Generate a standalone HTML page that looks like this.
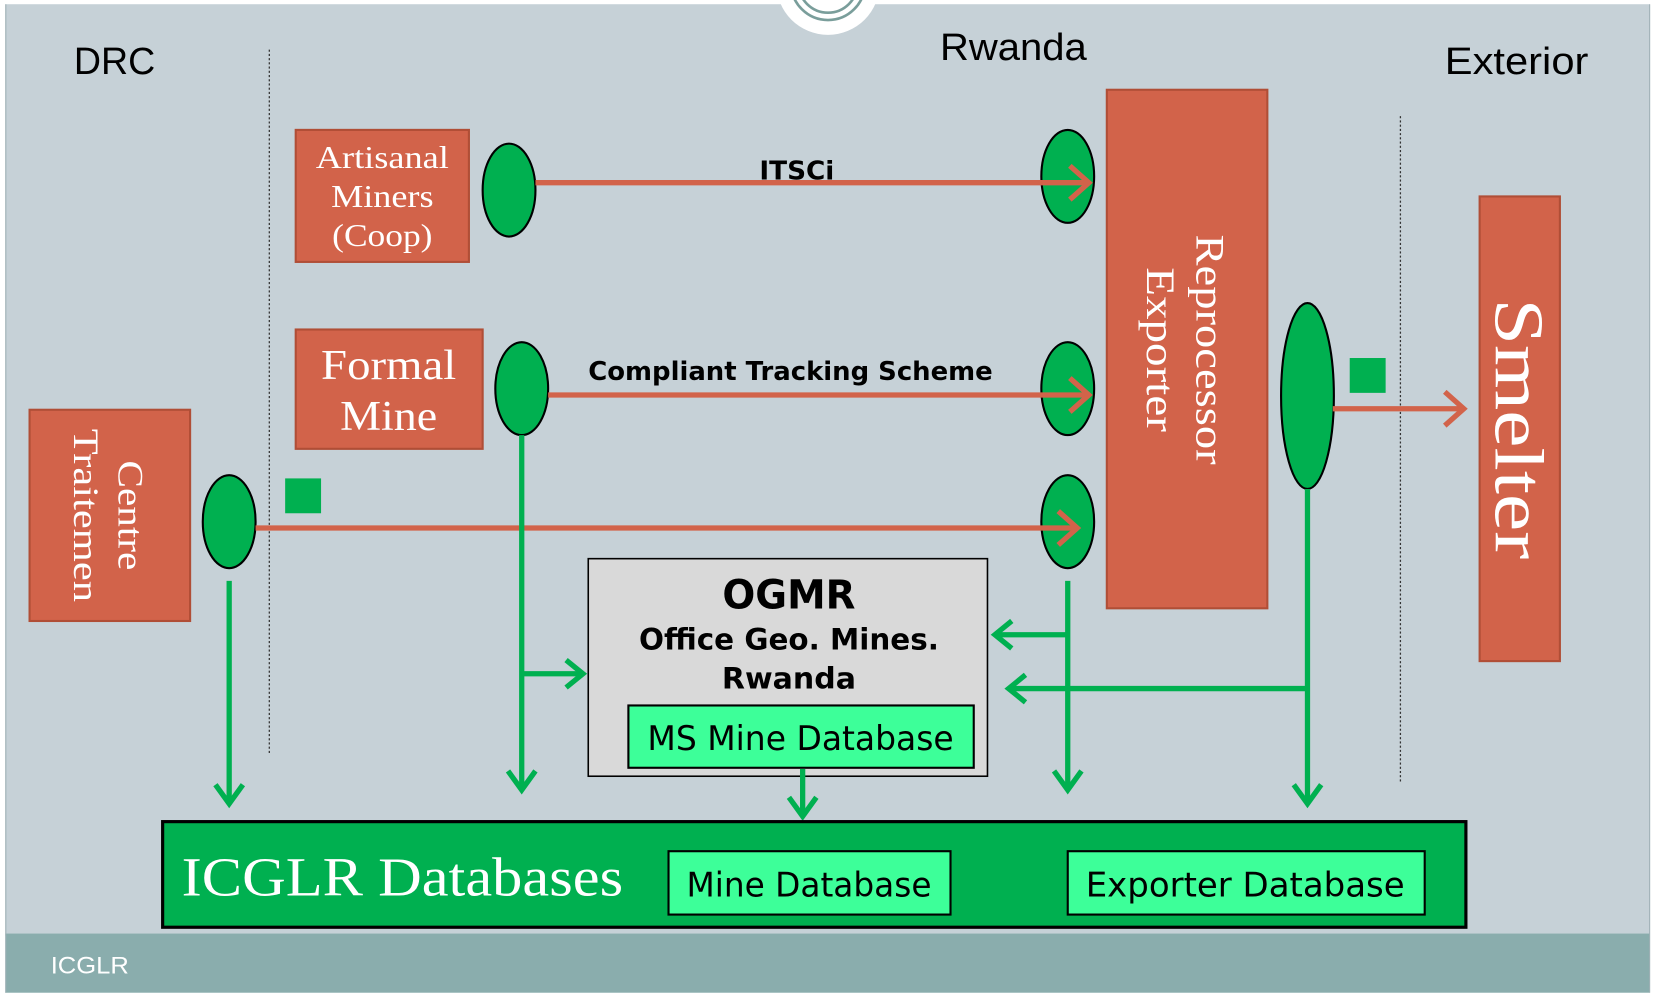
<!DOCTYPE html>
<html><head><meta charset="utf-8"><style>
html,body{margin:0;padding:0;background:#fff;}
svg{display:block;}
</style></head><body>
<svg width="1656" height="998" viewBox="0 0 1568 945" preserveAspectRatio="none" xmlns="http://www.w3.org/2000/svg">
<rect x="0" y="0" width="1568" height="945" fill="#ffffff"/>
<rect x="5" y="4" width="1557" height="882" fill="#c6d1d7"/>
<rect x="5" y="884" width="1557" height="56" fill="#8aadad"/>
<line x1="5.5" y1="4" x2="5.5" y2="940" stroke="#9fb0b5" stroke-width="1"/>
<line x1="1562" y1="4" x2="1562" y2="940" stroke="#9fb0b5" stroke-width="1"/>
<circle cx="784" cy="-16" r="49" fill="#fff"/>
<circle cx="784" cy="-16" r="35" fill="none" stroke="#7a9e9b" stroke-width="2.5"/>
<circle cx="784" cy="-16" r="28" fill="none" stroke="#7a9e9b" stroke-width="2.5"/>
<g font-family="Liberation Sans, sans-serif" fill="#000">
<text x="70" y="70" font-size="36" textLength="77" lengthAdjust="spacingAndGlyphs">DRC</text>
<text x="890" y="57" font-size="36" textLength="139" lengthAdjust="spacingAndGlyphs">Rwanda</text>
<text x="1368" y="70" font-size="36" textLength="136" lengthAdjust="spacingAndGlyphs">Exterior</text>
</g>
<line x1="255" y1="47" x2="255" y2="715" stroke="#333" stroke-width="1.2" stroke-dasharray="2,2"/>
<line x1="1326" y1="110" x2="1326" y2="740" stroke="#333" stroke-width="1.2" stroke-dasharray="2,2"/>
<g fill="#d2634a" stroke="#b04e36" stroke-width="2">
<rect x="280" y="123" width="164" height="125"/>
<rect x="280" y="312" width="177" height="113"/>
<rect x="28" y="388" width="152" height="200"/>
<rect x="1048" y="85" width="152" height="491"/>
<rect x="1401" y="186" width="76" height="440"/>
</g>
<g font-family="Liberation Serif, serif" fill="#fff" text-anchor="middle">
<text x="362" y="159" font-size="30" textLength="126" lengthAdjust="spacingAndGlyphs">Artisanal</text>
<text x="362" y="196" font-size="30" textLength="97" lengthAdjust="spacingAndGlyphs">Miners</text>
<text x="362" y="233" font-size="30" textLength="95" lengthAdjust="spacingAndGlyphs">(Coop)</text>
<text x="368" y="359" font-size="40" textLength="128" lengthAdjust="spacingAndGlyphs">Formal</text>
<text x="368" y="407" font-size="40" textLength="92" lengthAdjust="spacingAndGlyphs">Mine</text>
<text transform="translate(112,488) rotate(90)" font-size="34" textLength="104" lengthAdjust="spacingAndGlyphs">Centre</text>
<text transform="translate(70,488) rotate(90)" font-size="34" textLength="164" lengthAdjust="spacingAndGlyphs">Traitemen</text>
<text transform="translate(1133,331) rotate(90)" font-size="38" textLength="218" lengthAdjust="spacingAndGlyphs">Reprocessor</text>
<text transform="translate(1086,331) rotate(90)" font-size="38" textLength="156" lengthAdjust="spacingAndGlyphs">Exporter</text>
<text transform="translate(1416,406) rotate(90)" font-size="66" textLength="247" lengthAdjust="spacingAndGlyphs">Smelter</text>
</g>
<g fill="#00b050">
<rect x="270" y="453" width="34" height="33"/>
<rect x="1278" y="339" width="34" height="33"/>
</g>
<g fill="#00b050" stroke="#000" stroke-width="2">
<ellipse cx="482" cy="180" rx="25" ry="44"/>
<ellipse cx="1011" cy="167" rx="25" ry="44"/>
<ellipse cx="494" cy="368" rx="25" ry="44"/>
<ellipse cx="1011" cy="368" rx="25" ry="44"/>
<ellipse cx="217" cy="494" rx="25" ry="44"/>
<ellipse cx="1011" cy="494" rx="25" ry="44"/>
<ellipse cx="1238" cy="375" rx="25" ry="88"/>
</g>
<g stroke="#d2634a" stroke-width="5" fill="none">
<line x1="507" y1="173" x2="1031" y2="173"/>
<polyline points="1013,157 1031,173 1013,189"/>
<line x1="519" y1="374" x2="1031" y2="374"/>
<polyline points="1013,358 1031,374 1013,390"/>
<line x1="242" y1="500" x2="1020" y2="500"/>
<polyline points="1002,484 1020,500 1002,516"/>
<line x1="1262" y1="387" x2="1386" y2="387"/>
<polyline points="1368,371 1386,387 1368,403"/>
</g>
<g font-family="DejaVu Sans, sans-serif" font-weight="bold" fill="#000">
<text x="719" y="170" font-size="24" textLength="71" lengthAdjust="spacingAndGlyphs">ITSCi</text>
<text x="557" y="360" font-size="24" textLength="383" lengthAdjust="spacingAndGlyphs">Compliant  Tracking Scheme</text>
</g>
<rect x="557" y="529" width="378" height="206" fill="#d9d9d9" stroke="#000" stroke-width="1.5"/>
<g font-family="DejaVu Sans, sans-serif" font-weight="bold" fill="#000" text-anchor="middle">
<text x="747" y="576" font-size="38" textLength="126" lengthAdjust="spacingAndGlyphs">OGMR</text>
<text x="747" y="615" font-size="28" textLength="284" lengthAdjust="spacingAndGlyphs">Office Geo. Mines.</text>
<text x="747" y="652" font-size="28" textLength="127" lengthAdjust="spacingAndGlyphs">Rwanda</text>
</g>
<rect x="595" y="668" width="327" height="59" fill="#3dff99" stroke="#000" stroke-width="2"/>
<text x="758" y="710" font-size="32" font-family="DejaVu Sans, sans-serif" text-anchor="middle" textLength="290" lengthAdjust="spacingAndGlyphs">MS Mine Database</text>
<g stroke="#00b050" stroke-width="5" fill="none">
<line x1="494" y1="412" x2="494" y2="748"/>
<polyline points="481,730 494,748 507,730"/>
<line x1="494" y1="638" x2="552" y2="638"/>
<polyline points="536,625 552,638 536,651"/>
<line x1="217" y1="550" x2="217" y2="761"/>
<polyline points="204,743 217,761 230,743"/>
<line x1="1011" y1="550" x2="1011" y2="748"/>
<polyline points="998,730 1011,748 1024,730"/>
<line x1="1011" y1="601" x2="942" y2="601"/>
<polyline points="958,588 942,601 958,614"/>
<line x1="1238" y1="463" x2="1238" y2="761"/>
<polyline points="1225,743 1238,761 1251,743"/>
<line x1="1238" y1="652" x2="955" y2="652"/>
<polyline points="971,639 955,652 971,665"/>
<line x1="760" y1="728" x2="760" y2="773"/>
<polyline points="747,755 760,773 773,755"/>
</g>
<rect x="154" y="778" width="1234" height="100" fill="#00b050" stroke="#000" stroke-width="3"/>
<text x="172" y="848" font-size="52" font-family="Liberation Serif, serif" fill="#fff" textLength="418" lengthAdjust="spacingAndGlyphs">ICGLR Databases</text>
<rect x="633" y="806" width="267" height="60" fill="#3dff99" stroke="#000" stroke-width="2"/>
<rect x="1011" y="806" width="338" height="60" fill="#3dff99" stroke="#000" stroke-width="2"/>
<g font-family="DejaVu Sans, sans-serif" font-size="32" fill="#000">
<text x="650" y="849" textLength="232" lengthAdjust="spacingAndGlyphs">Mine Database</text>
<text x="1028" y="849" textLength="302" lengthAdjust="spacingAndGlyphs">Exporter  Database</text>
</g>
<text x="48" y="922" font-size="23" font-family="Liberation Sans, sans-serif" fill="#fff" textLength="74" lengthAdjust="spacingAndGlyphs">ICGLR</text>
</svg>
</body></html>
